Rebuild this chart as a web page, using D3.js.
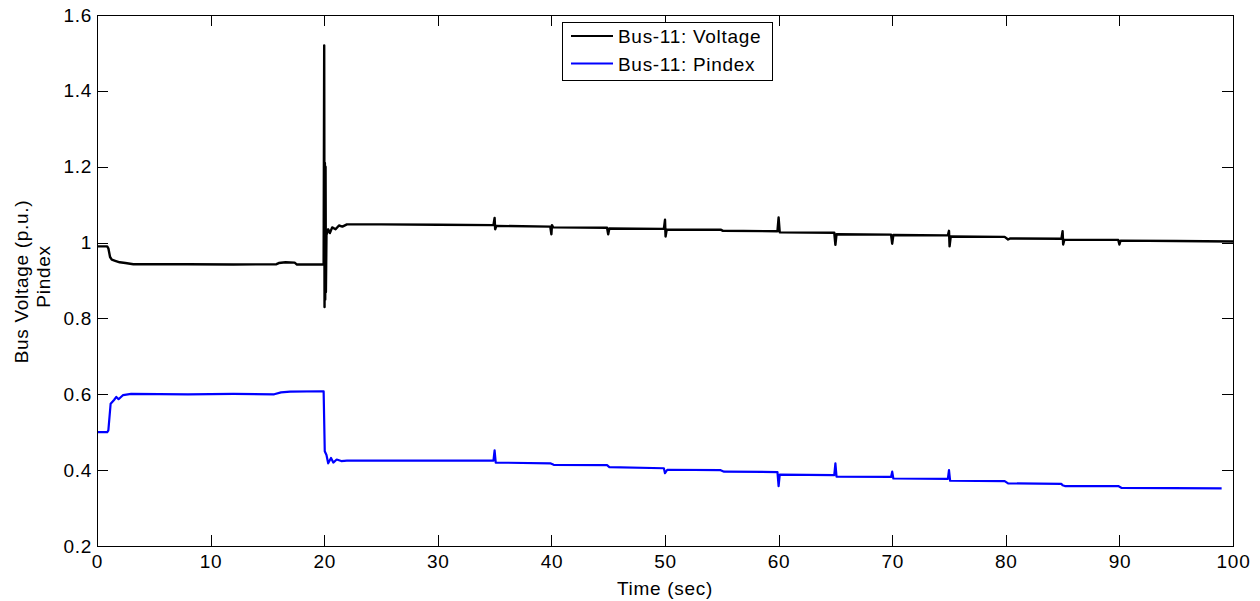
<!DOCTYPE html>
<html lang="en">
<head>
    <meta charset="UTF-8">
    <title>Bus-11 Voltage / Pindex</title>
    <script src="https://cdn.jsdelivr.net/npm/d3@7"></script>
</head>
<style>
    body {
        margin: 0;
        background: #fff;
    }

    svg text {
        font-family: "Liberation Sans", Arial, Helvetica, sans-serif;
        font-size: 19px;
        letter-spacing: 0.7px;
        fill: #000;
    }

    .axis path, .axis line {
        stroke: #000;
        shape-rendering: crispEdges;
    }
</style>
<body>
<script>
    // Bus-11 voltage (black)
    var voltT = [0, 0.9, 1.0, 1.15, 1.3, 1.6, 2.0, 2.5, 3.2, 8, 12, 15.8, 16.0, 16.6, 17.4, 17.6, 19.9,
        19.95, 20.0, 20.03, 20.06, 20.09, 20.12, 20.15, 20.2, 20.35, 20.5, 20.7, 21.0, 21.3, 21.6, 22,
        25, 30, 34.9, 35, 35.05, 35.15, 39.9, 40, 40.05, 40.15, 44.9, 45, 45.1, 49.9, 50, 50.05, 50.15,
        54.9, 55.1, 59.9, 60, 60.1, 64.9, 65, 65.1, 69.9, 70, 70.1, 74.9, 75, 75.05, 75.15, 79.9, 80.2,
        80.4, 84.9, 85, 85.05, 85.15, 89.9, 90, 90.1, 95, 100];
    var voltV = [0.99, 0.99, 0.985, 0.962, 0.955, 0.952, 0.948, 0.946, 0.943, 0.943, 0.942, 0.943, 0.946, 0.948, 0.947, 0.942, 0.942,
        0.942, 1.52, 0.83, 1.21, 0.85, 1.20, 0.87, 1.02, 1.035, 1.025, 1.040, 1.035, 1.045, 1.042, 1.048,
        1.048, 1.047, 1.046, 1.065, 1.035, 1.044, 1.042, 1.022, 1.046, 1.040, 1.039, 1.022, 1.037, 1.036, 1.060, 1.016, 1.034,
        1.034, 1.031, 1.030, 1.066, 1.027, 1.026, 0.994, 1.022, 1.021, 0.997, 1.020, 1.019, 1.031, 0.990, 1.016, 1.015, 1.008,
        1.011, 1.010, 1.030, 0.995, 1.007, 1.007, 0.995, 1.005, 1.004, 1.003];

    // Bus-11 Pindex (blue)
    var pidxT = [0, 0.9, 1.0, 1.2, 1.5, 1.7, 1.9, 2.3, 3, 8, 12, 15.6, 16.2, 17, 19.95,
        20.05, 20.2, 20.35, 20.6, 20.8, 21.1, 21.5, 22, 34.9, 35, 35.1, 39.9, 40.2, 44.9, 45.1,
        49.9, 50, 50.2, 54.9, 55.2, 59.9, 60, 60.1, 64.9, 65, 65.1, 69.9, 70, 70.1, 74.9, 75, 75.1,
        79.9, 80.2, 84.9, 85, 85.2, 89.9, 90.2, 99];
    var pidxV = [0.50, 0.50, 0.505, 0.575, 0.585, 0.593, 0.587, 0.598, 0.601, 0.600, 0.601, 0.600, 0.605, 0.607, 0.608,
        0.450, 0.440, 0.418, 0.432, 0.420, 0.428, 0.424, 0.425, 0.425, 0.452, 0.420, 0.418, 0.414, 0.413, 0.408,
        0.405, 0.392, 0.401, 0.400, 0.396, 0.395, 0.358, 0.388, 0.387, 0.418, 0.383, 0.382, 0.396, 0.378, 0.377, 0.400, 0.372,
        0.371, 0.365, 0.364, 0.360, 0.358, 0.358, 0.353, 0.352];

    var xTicks = [0, 10, 20, 30, 40, 50, 60, 70, 80, 90, 100];
    var yTicks = [0.2, 0.4, 0.6, 0.8, 1.0, 1.2, 1.4, 1.6];
    var yTickLabels = ['0.2', '0.4', '0.6', '0.8', '1', '1.2', '1.4', '1.6'];

    var seriesNames = ['Bus-11: Voltage', 'Bus-11: Pindex'];
    var seriesColors = ['#000000', '#0000ff'];

    var width = 1260;
    var height = 601;
    var padding = {left: 97, right: 27, top: 15, bottom: 55};
    var plotW = width - padding.left - padding.right;
    var plotH = height - padding.top - padding.bottom;

    var svg = d3.select('body')
        .append('svg')
        .attr('width', width)
        .attr('height', height)

    var xScale = d3.scaleLinear()
        .domain([0, 100])
        .range([0, plotW])

    var yScale = d3.scaleLinear()
        .domain([0.2, 1.6])
        .range([plotH, 0])

    var g = svg.append('g')
        .attr('transform', 'translate(' + padding.left + ',' + padding.top + ')')

    // lines
    var line = d3.line()
        .x(function (d) { return xScale(d[0]) })
        .y(function (d) { return yScale(d[1]) })

    var voltData = voltT.map(function (t, i) { return [t, voltV[i]] })
    var pidxData = pidxT.map(function (t, i) { return [t, pidxV[i]] })

    g.append('path')
        .datum(voltData)
        .attr('d', line)
        .attr('fill', 'none')
        .attr('stroke', seriesColors[0])
        .attr('stroke-width', 2.4)
        .attr('stroke-linejoin', 'round')

    g.append('path')
        .datum(pidxData)
        .attr('d', line)
        .attr('fill', 'none')
        .attr('stroke', seriesColors[1])
        .attr('stroke-width', 2.2)
        .attr('stroke-linejoin', 'round')

    // axes, ticks inward on all four sides
    var tickLen = 11;
    var xAxis = d3.axisBottom(xScale).tickValues(xTicks).tickSize(-tickLen).tickPadding(9)
    var yAxis = d3.axisLeft(yScale).tickValues(yTicks).tickSize(-tickLen).tickPadding(5)
        .tickFormat(function (d, i) { return yTickLabels[i] })
    var xTop = d3.axisTop(xScale).tickValues(xTicks).tickSize(-tickLen).tickFormat('')
    var yRight = d3.axisRight(yScale).tickValues(yTicks).tickSize(-tickLen).tickFormat('')

    g.append('g').attr('class', 'axis')
        .attr('transform', 'translate(0,' + plotH + ')')
        .call(xAxis)
    g.append('g').attr('class', 'axis').call(yAxis)
    g.append('g').attr('class', 'axis').call(xTop)
    g.append('g').attr('class', 'axis')
        .attr('transform', 'translate(' + plotW + ',0)')
        .call(yRight)

    g.selectAll('.axis text')
        .attr('font-size', null)
        .attr('font-family', null)
    g.selectAll('.axis .domain').attr('stroke-width', 1.3)

    // axis labels
    svg.append('text')
        .attr('x', padding.left + plotW / 2)
        .attr('y', 595)
        .attr('text-anchor', 'middle')
        .text('Time (sec)')

    svg.append('text')
        .attr('transform', 'translate(28,' + (padding.top + plotH / 2 + 1) + ') rotate(-90)')
        .attr('text-anchor', 'middle')
        .text('Bus Voltage (p.u.)')

    svg.append('text')
        .attr('transform', 'translate(50,' + (padding.top + plotH / 2 - 4) + ') rotate(-90)')
        .attr('text-anchor', 'middle')
        .text('Pindex')

    // legend
    var legend = svg.append('g')
        .attr('transform', 'translate(562,22)')

    legend.append('rect')
        .attr('width', 210)
        .attr('height', 58)
        .attr('fill', '#fff')
        .attr('stroke', '#000')
        .attr('stroke-width', 1)
        .attr('shape-rendering', 'crispEdges')

    var items = legend.selectAll('.item')
        .data(seriesNames)
        .enter()
        .append('g')
        .attr('class', 'item')
        .attr('transform', function (d, i) { return 'translate(0,' + (14 + i * 27.5) + ')' })

    items.append('line')
        .attr('x1', 9)
        .attr('x2', 51)
        .attr('stroke', function (d, i) { return seriesColors[i] })
        .attr('stroke-width', 2)

    items.append('text')
        .attr('x', 56)
        .attr('y', 7)
        .text(function (d) { return d })
</script>

</body>
</html>
